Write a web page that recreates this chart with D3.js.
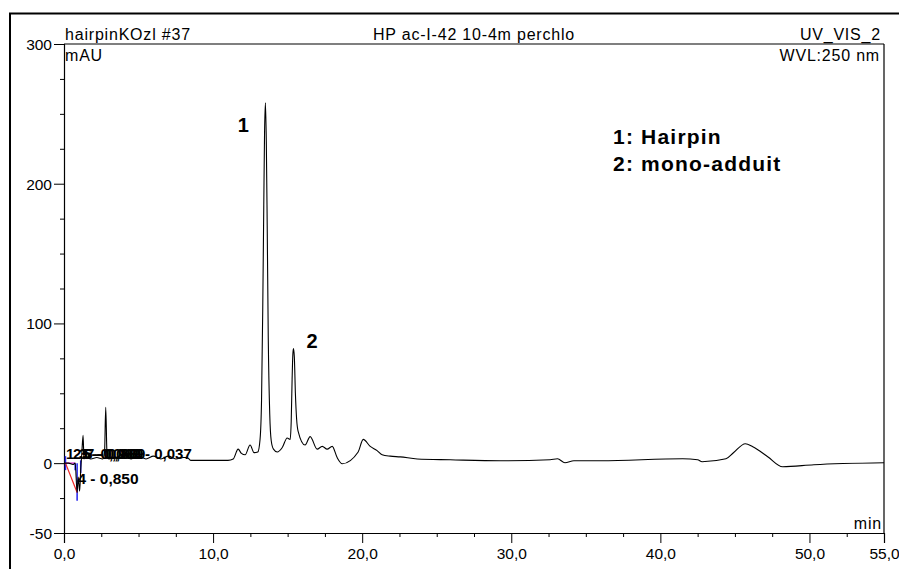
<!DOCTYPE html>
<html><head><meta charset="utf-8">
<script src="https://cdn.jsdelivr.net/npm/d3@7"></script>
<style>
body{margin:0;background:#fff}
svg{display:block}
text{font-family:"Liberation Sans",Arial,Helvetica,sans-serif;fill:#000}
</style>
</head><body>
<svg id="c" width="899" height="569"></svg>
<script>
// ---- data (retention time in min, signal in mAU) ----
const times = [0,0.3,0.6,0.75,0.88,0.95,1.05,1.12,1.2,1.28,1.34,1.45,1.8,2.2,2.6,2.72,2.8,2.88,3.0,3.5,4.0,4.5,5.0,5.5,6.0,6.5,7.0,7.5,8.0,8.26,8.5,9.0,10.0,11.0,11.35,11.68,11.9,12.15,12.48,12.75,13.0,13.15,13.25,13.33,13.4,13.45,13.51,13.57,13.63,13.7,13.8,13.9,14.05,14.3,14.63,14.97,15.17,15.24,15.3,15.35,15.39,15.45,15.52,15.6,15.7,16.17,16.51,16.98,17.32,17.65,17.99,18.32,18.66,19.73,20.07,20.54,21.0,21.34,21.88,22.55,23.69,25.9,29.26,32.6,33.1,33.6,34.2,36.0,41.5,42.5,42.8,44.4,44.9,45.7,46.2,47.2,48.2,50.3,55.0];
const signal = [0,0,-1,0,-21,-10,-20,-5,8,20,3,5,3,4,3,8,40,8,3,4,6,3,5,3,5,3,5,3,4,4,2,2,2,2,3,10,7,6,13,7.5,8,17,45,110,185,235,258,230,170,90,35,16,10,8,11,18,17,30,60,78,82,76,50,32,23,13,19,10,12,10,12,4,-0.4,8,17,12,9,6,5,4.5,3,2.4,1.7,2.4,3.1,0.3,1.7,1.7,3.1,2.4,1,3.1,7.4,13.9,11.7,4.6,-2.6,-1.1,0.3];

const xMajorTicks = [0,10,20,30,40,50,55];
const xTickLabels = ["0,0","10,0","20,0","30,0","40,0","50,0","55,0"];
const xMinorTicks = [2.5,5,7.5,12.5,15,17.5,22.5,25,27.5,32.5,35,37.5,42.5,45,47.5,52.5];
const yMajorTicks = [-50,0,100,200,300];
const yTickLabels = ["-50","0","100","200","300"];
const yMinorTicks = [-25,25,50,75,125,150,175,225,250,275];

const peakNames = ["1","2"];
const peakTimes = [13.51,15.39];
const peakHeights = [258,82];
const legendLines = ["1: Hairpin","2: mono-adduit"];

// integration annotation near the injection peak
const intLabels = ["1","2","3 - 0,060","5 - 0,069","6 - 0,960","7 - 0,869","9 - 0,037"];
const intLabelTimes = [0.13,0.6,1.0,1.2,1.35,1.48,4.6];
const negLabel = "4 - 0,850";
const delimTimes = [0.1,0.75,0.88,1.12];
const delimLow = [-5,-5,-27,-7];
const delimHigh = [5,0,0,2];

// ---- drawing ----
const svg = d3.select("#c");
const W = 899, H = 569;
const x = d3.scaleLinear().domain([0,55]).range([64,884]);
const y = d3.scaleLinear().domain([-50,300]).range([533,44]);

// outer frame
svg.append("rect").attr("x",10).attr("y",13.5).attr("width",W).attr("height",H)
  .attr("fill","none").attr("stroke","#000").attr("stroke-width",2);

// plot frame top + right
svg.append("line").attr("x1",x(0)).attr("x2",x(55)).attr("y1",y(300)).attr("y2",y(300)).attr("stroke","#000").attr("stroke-width",1.2);
svg.append("line").attr("x1",x(55)).attr("x2",x(55)).attr("y1",y(300)).attr("y2",y(-50)).attr("stroke","#000").attr("stroke-width",1.2);

// y axis
const yAxisMajor = d3.axisLeft(y).tickValues(yMajorTicks).tickSize(10).tickPadding(2)
  .tickFormat((d,i)=>yTickLabels[i]);
const gy = svg.append("g").attr("transform",`translate(${x(0)},0)`).call(yAxisMajor);
gy.select(".domain").attr("stroke","#000").attr("stroke-width",1.2);
gy.selectAll("text").style("font-size","15.5px").attr("dy","0.35em");
const gy2 = svg.append("g").attr("transform",`translate(${x(0)},0)`)
  .call(d3.axisLeft(y).tickValues(yMinorTicks).tickSize(4).tickFormat(""));
gy2.select(".domain").remove();

// x axis
const xAxisMajor = d3.axisBottom(x).tickValues(xMajorTicks).tickSize(10).tickPadding(5)
  .tickFormat((d,i)=>xTickLabels[i]);
const gx = svg.append("g").attr("transform",`translate(0,${y(-50)})`).call(xAxisMajor);
gx.select(".domain").attr("stroke","#000").attr("stroke-width",1.2);
gx.selectAll("text").style("font-size","15.5px");
const gx2 = svg.append("g").attr("transform",`translate(0,${y(-50)})`)
  .call(d3.axisBottom(x).tickValues(xMinorTicks).tickSize(4).tickFormat(""));
gx2.select(".domain").remove();
svg.selectAll(".tick line").attr("stroke","#000");

// header texts
const hdr = (t,xx,yy,anchor)=>svg.append("text").attr("x",xx).attr("y",yy).attr("text-anchor",anchor)
  .style("font-size","16px").style("letter-spacing","0.8px").text(t);
hdr("hairpinKOzl #37",x(0)+1,40,"start");
hdr("mAU",x(0)+1,61,"start");
hdr("HP ac-I-42 10-4m perchlo",474,40,"middle");
hdr("UV_VIS_2",881,40,"end");
hdr("WVL:250 nm",880,61,"end");
hdr("min",882,529,"end");

// integration delimiters
const delims = svg.append("g");
delimTimes.forEach((t,i)=>{
  delims.append("line").attr("x1",x(t)).attr("x2",x(t)).attr("y1",y(delimLow[i])).attr("y2",y(delimHigh[i]))
    .attr("stroke","#2222ee").attr("stroke-width",1.5);
});
svg.append("line").attr("x1",x(delimTimes[0])).attr("x2",x(delimTimes[1])).attr("y1",y(0)).attr("y2",y(0))
  .attr("stroke","#d040d0").attr("stroke-width",1.5);
svg.append("line").attr("x1",x(delimTimes[0])).attr("x2",x(delimTimes[2])).attr("y1",y(0)).attr("y2",y(-21))
  .attr("stroke","#ee2222").attr("stroke-width",1.2);

// trace
const pts = times.map((t,i)=>[t,signal[i]]);
const line = d3.line().x(d=>x(d[0])).y(d=>y(d[1])).curve(d3.curveMonotoneX);
svg.append("path").datum(pts).attr("d",line).attr("fill","none").attr("stroke","#000").attr("stroke-width",1.1);

// integration labels
intLabels.forEach((s,i)=>{
  svg.append("text").attr("x",x(intLabelTimes[i])).attr("y",y(0)-4)
    .style("font-size","15px").style("font-weight","bold").text(s);
});
svg.append("text").attr("x",x(0.9)).attr("y",y(-15)).style("font-size","15.5px").style("font-weight","bold").text(negLabel);

// peak numbers
peakNames.forEach((s,i)=>{
  svg.append("text").attr("x",x(peakTimes[i])+ (i===0?-22:13)).attr("y",y(peakHeights[i])+ (i===0?29:-1))
    .attr("text-anchor", i===0?"middle":"start")
    .style("font-size","20px").style("font-weight","bold").text(s);
});

// legend
legendLines.forEach((s,i)=>{
  svg.append("text").attr("x",613).attr("y",144+i*27).style("font-size","21px").style("letter-spacing","1.2px")
    .style("font-weight","bold").text(s);
});
</script>
</body></html>
